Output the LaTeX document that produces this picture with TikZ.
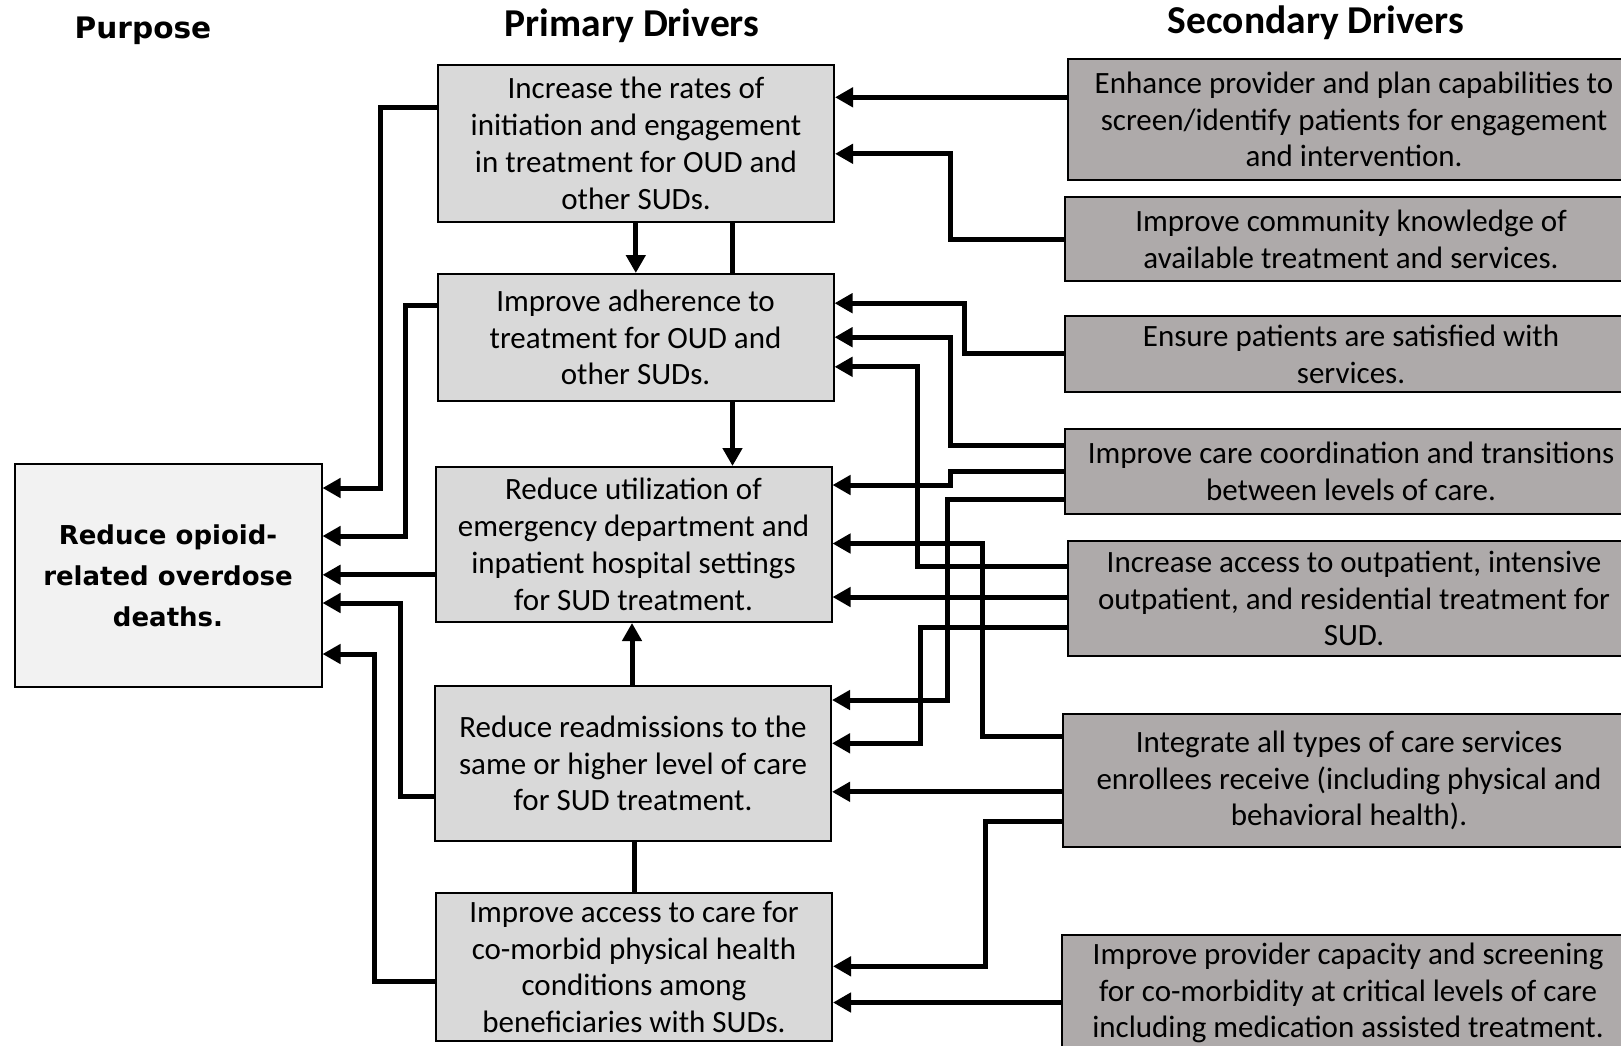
\documentclass[tikz,border=0pt]{standalone}
\usepackage{fontspec}
\setmainfont{Carlito}
\newfontfamily\verdanalike{DejaVu Sans}
\usetikzlibrary{arrows.meta}
\definecolor{purposegray}{HTML}{F2F2F2}
\definecolor{primgray}{HTML}{D9D9D9}
\definecolor{secgray}{HTML}{AEAAAA}

\begin{document}
\begin{tikzpicture}
            [x=1pt,y=-1pt,
             Box/.style={rectangle,draw=black,line width=2pt,inner sep=0pt,align=center,font=\fontsize{31}{36.8}\selectfont},
             Prim/.style={Box,fill=primgray,minimum width=396pt},
             Sec/.style={Box,fill=secgray,minimum width=572pt,anchor=west},
             Head/.style={font=\fontsize{39.5}{44}\selectfont\bfseries},
             Link/.style={line width=5pt,-{Triangle[length=18pt,width=19pt]}},
             Line/.style={line width=5pt}]
            \useasboundingbox (0,0) rectangle (1621,1045);
            \clip (0,0) rectangle (1621,1045);

            \node[font=\verdanalike\bfseries\fontsize{29.6}{34}\selectfont] (hpurpose) at (143,31) {Purpose};
            \node[Head] (hprim) at (632,26) {Primary Drivers};
            \node[Head] (hsec) at (1316,23) {Secondary Drivers};

            \node[Box,fill=purposegray,minimum width=307pt,minimum height=223pt,font=\verdanalike\bfseries\fontsize{26}{41}\selectfont] (purpose) at (168,575.5) {Reduce opioid-\\related overdose\\deaths.};

            \node[Prim,minimum height=157pt] (p1) at (636,143.5) {Increase the rates of\\initiation and engagement\\in treatment for OUD and\\other SUDs.};
            \node[Prim,minimum height=127pt] (p2) at (635.5,337.5) {Improve adherence to\\treatment for OUD and\\other SUDs.};
            \node[Prim,minimum height=155pt] (p3) at (633.5,544.5) {Reduce utilization of\\emergency department and\\inpatient hospital settings\\for SUD treatment.};
            \node[Prim,minimum height=155pt] (p4) at (633,763.5) {Reduce readmissions to the\\same or higher level of care\\for SUD treatment.};
            \node[Prim,minimum height=148pt] (p5) at (634,967) {Improve access to care for\\co-morbid physical health\\conditions among\\beneficiaries with SUDs.};

            \node[Sec,minimum height=121pt] (s1) at (1067,119.5) {Enhance provider and plan capabilities to\\screen/identify patients for engagement\\and intervention.};
            \node[Sec,minimum height=84pt] (s2) at (1064,239) {Improve community knowledge of\\available treatment and services.};
            \node[Sec,minimum height=76pt] (s3) at (1064,354) {Ensure patients are satisfied with\\services.};
            \node[Sec,minimum height=85pt] (s4) at (1064,471.5) {Improve care coordination and transitions\\between levels of care.};
            \node[Sec,minimum height=115pt] (s5) at (1067,598.5) {Increase access to outpatient, intensive\\outpatient, and residential treatment for\\SUD.};
            \node[Sec,minimum height=133pt] (s6) at (1062,780.5) {Integrate all types of care services\\enrollees receive (including physical and\\behavioral health).};
            \node[Sec,minimum height=116pt] (s7) at (1061,993) {Improve provider capacity and screening\\for co-morbidity at critical levels of care\\including medication assisted treatment.};

            \draw[Link] (p1.west |- 0,107.5) -| (380,488) -- (purpose.east |- 0,488);
            \draw[Link] (p2.west |- 0,305.5) -| (405,536) -- (purpose.east |- 0,536);
            \draw[Link] (p3.west |- 0,574.8) -- (purpose.east |- 0,574.8);
            \draw[Link] (p4.west |- 0,796.5) -| (400,603) -- (purpose.east |- 0,603);
            \draw[Link] (p5.west |- 0,981.5) -| (374.5,654) -- (purpose.east |- 0,654);

            \draw[Link] (p1.south -| 635.8,0) -- (p2.north -| 635.8,0);
            \draw[Line] (p1.south -| 732,0) -- (p2.north -| 732,0);
            \draw[Link] (p2.south -| 732.5,0) -- (p3.north -| 732.5,0);
            \draw[Link] (p4.north -| 632,0) -- (p3.south -| 632,0);
            \draw[Line] (p4.south -| 634,0) -- (p5.north -| 634,0);

            \draw[Link] (s1.west |- 0,97.3) -- (p1.east |- 0,97.3);
            \draw[Link] (s2.west |- 0,239) -| (950.5,153.8) -- (p1.east |- 0,153.8);
            \draw[Link] (s3.west |- 0,353.5) -| (964.5,303.2) -- (p2.east |- 0,303.2);
            \draw[Link] (s4.west |- 0,445.3) -| (950.5,337.2) -- (p2.east |- 0,337.2);
            \draw[Link] (s5.west |- 0,566.3) -| (917.3,366.8) -- (p2.east |- 0,366.8);
            \draw[Link] (s4.west |- 0,471.6) -| (950.3,485) -- (p3.east |- 0,485);
            \draw[Link] (s4.west |- 0,499.2) -| (947.8,700) -- (p4.east |- 0,700);
            \draw[Link] (s6.west |- 0,736.3) -| (982,543.5) -- (p3.east |- 0,543.5);
            \draw[Link] (s5.west |- 0,597) -- (p3.east |- 0,597);
            \draw[Link] (s5.west |- 0,627) -| (920.5,743.3) -- (p4.east |- 0,743.3);
            \draw[Link] (s6.west |- 0,791.8) -- (p4.east |- 0,791.8);
            \draw[Link] (s6.west |- 0,821.8) -| (985,966.3) -- (p5.east |- 0,966.3);
            \draw[Link] (s7.west |- 0,1002.5) -- (p5.east |- 0,1002.5);
        \end{tikzpicture}
\end{document}
